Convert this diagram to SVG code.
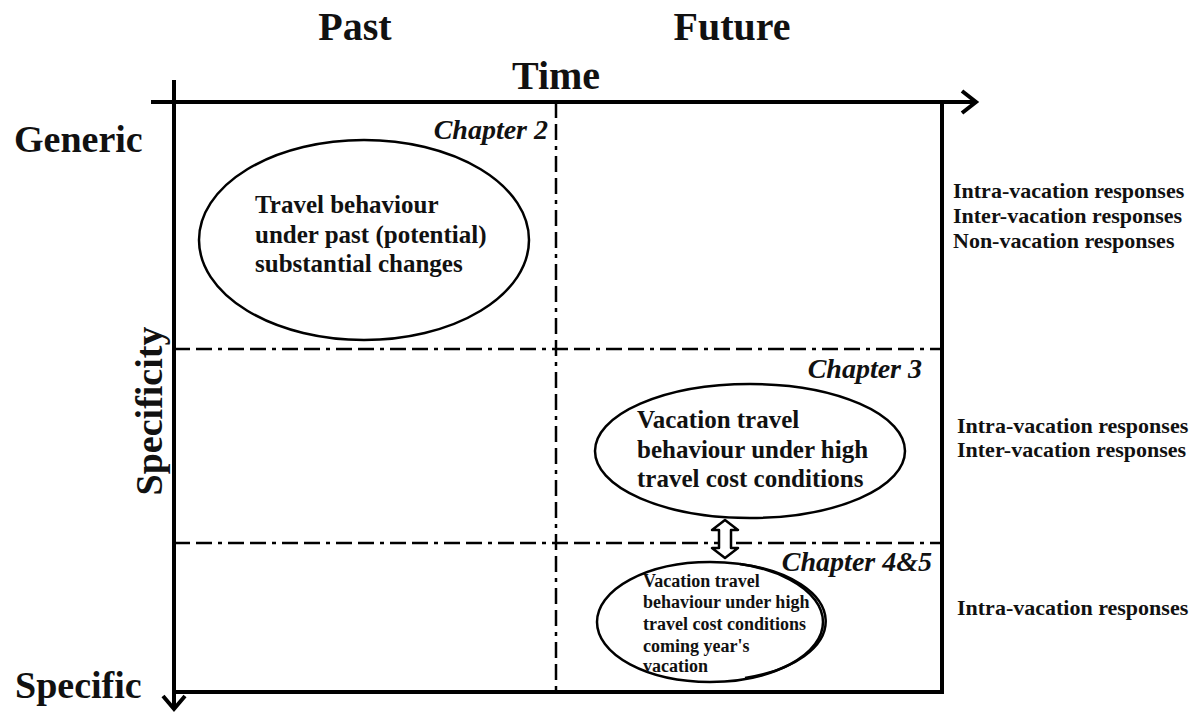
<svg xmlns="http://www.w3.org/2000/svg" width="1202" height="715" viewBox="0 0 1202 715">
<style>
.t{font-family:"Liberation Serif","Times New Roman",serif;font-weight:bold;fill:#111}
.big{font-size:38px}
.ttl{font-size:40px}
.ch{font-size:28px;font-style:italic}
.nd{font-size:25px}
.sm{font-size:18px}
.rt{font-size:22px}
.ax{stroke:#000;stroke-width:4;fill:none}
.dash{stroke:#000;stroke-width:2.5;fill:none;stroke-dasharray:16,6,16,6,4,6}
.el{stroke:#000;stroke-width:2.5;fill:none}
</style>
<rect width="1202" height="715" fill="#fff"/>
<g id="labels">
<text class="t ttl" x="355" y="40" text-anchor="middle">Past</text>
<text class="t ttl" x="732" y="40" text-anchor="middle">Future</text>
<text class="t ttl" x="556" y="89" text-anchor="middle" font-size="42">Time</text>
<text class="t big" x="14" y="152">Generic</text>
<text class="t big" x="15" y="698">Specific</text>
<text class="t big" transform="translate(162,411) rotate(-90)" text-anchor="middle">Specificity</text>
<text class="t ch" x="548" y="139" text-anchor="end">Chapter 2</text>
<text class="t ch" x="922" y="378" text-anchor="end">Chapter 3</text>
<text class="t ch" x="932" y="571" text-anchor="end">Chapter 4&amp;5</text>
</g>
<g id="connectors">
<path class="ax" d="M151,102 H975 M962,91 L976,102 L962,113"/>
<path class="ax" d="M174,80 V708 M163,696 L174,709 L185,696"/>
<path class="ax" d="M942,102 V692 H174"/>
<path class="dash" d="M556,102 V692"/>
<path class="dash" d="M174,349 H942"/>
<path class="dash" d="M174,543 H942"/>
<path d="M725,520 L738,530 L731,530 L731,548 L738,548 L725,558 L712,548 L719,548 L719,530 L712,530 Z" fill="#fff" stroke="#000" stroke-width="2.5" stroke-linejoin="round"/>
</g>
<g id="node-past">
<ellipse class="el" cx="364" cy="240" rx="165" ry="100"/>
<text class="t nd" x="255" y="213">Travel behaviour</text>
<text class="t nd" x="255" y="243">under past (potential)</text>
<text class="t nd" x="255" y="272">substantial changes</text>
</g>
<g id="node-ch3">
<ellipse class="el" cx="750" cy="451" rx="155" ry="67"/>
<text class="t nd" x="637" y="428">Vacation travel</text>
<text class="t nd" x="637" y="458">behaviour under high</text>
<text class="t nd" x="637" y="487">travel cost conditions</text>
</g>
<g id="node-ch45">
<ellipse class="el" cx="710" cy="622" rx="113" ry="60"/>
<path class="el" d="M740,564 A112,59 0 0 1 745,678" stroke-width="2"/>
<text class="t sm" x="643" y="587">Vacation travel</text>
<text class="t sm" x="643" y="608">behaviour under high</text>
<text class="t sm" x="643" y="630">travel cost conditions</text>
<text class="t sm" x="643" y="652">coming year's</text>
<text class="t sm" x="643" y="672">vacation</text>
</g>
<g id="responses">
<text class="t rt" x="953" y="198">Intra-vacation responses</text>
<text class="t rt" x="953" y="223">Inter-vacation responses</text>
<text class="t rt" x="953" y="248">Non-vacation responses</text>
<text class="t rt" x="957" y="433">Intra-vacation responses</text>
<text class="t rt" x="957" y="457">Inter-vacation responses</text>
<text class="t rt" x="957" y="615">Intra-vacation responses</text>
</g>
</svg>
